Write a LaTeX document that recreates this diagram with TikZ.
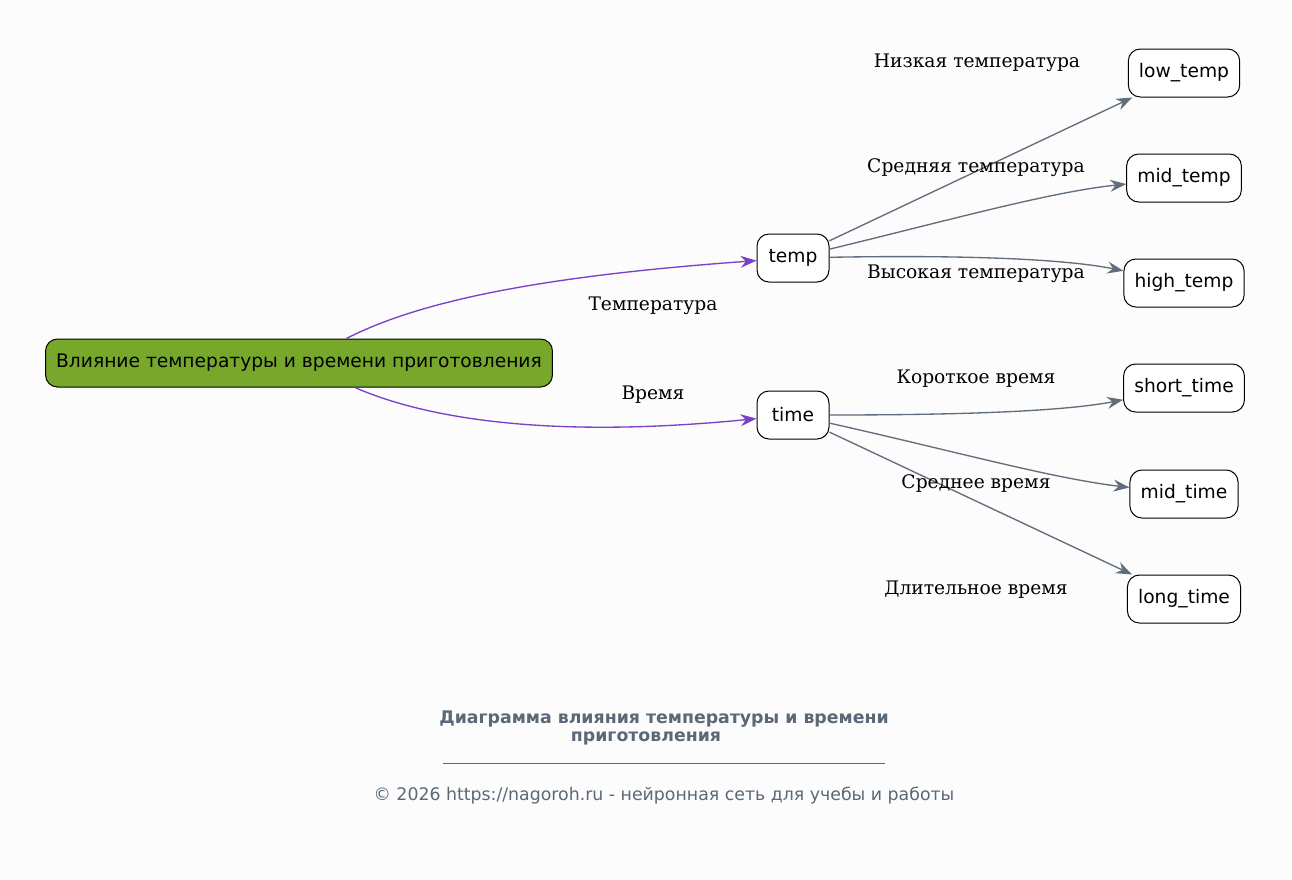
\documentclass[tikz,border=0pt]{standalone}
\usepackage{fontspec}
\setmainfont{DejaVu Serif}
\setsansfont{DejaVu Sans}
\usepackage{xcolor}
\usepackage{tikz}
\usetikzlibrary{arrows.meta,positioning}

\definecolor{rootgreen}{HTML}{78A82B}
\definecolor{branchviolet}{HTML}{7B3FC9}
\definecolor{leafgray}{HTML}{5F6D7C}
\definecolor{notegray}{HTML}{5A6878}
\definecolor{paper}{HTML}{FCFCFC}

\begin{document}
\begin{tikzpicture}[x=0.75pt,y=-0.75pt,>={Stealth[length=12pt,width=9pt,inset=4pt]},
		box/.style={draw,line width=0.75pt,rounded corners=9pt,fill=white,minimum width=54pt,minimum height=36pt,inner xsep=8pt,font=\sffamily\fontsize{14}{17}\selectfont},
		lbl/.style={font=\fontsize{14}{17}\selectfont},
		branch/.style={->,branchviolet,line width=1pt},
		leaf/.style={->,leafgray,line width=1pt}]
		\fill[paper] (0,0) rectangle (1292,879);
		\useasboundingbox (0,0) rectangle (1292,879);
		% nodes
		\node[box,fill=rootgreen] (root) at (299,363) {Влияние температуры и времени приготовления};
		\node[box] (temp) at (793,258) {temp};
		\node[box] (time) at (793,415) {time};
		\node[box] (lowtemp) at (1184,73) {low\_temp};
		\node[box] (midtemp) at (1184,178) {mid\_temp};
		\node[box] (hightemp) at (1184,283) {high\_temp};
		\node[box] (shorttime) at (1184,388) {short\_time};
		\node[box] (midtime) at (1184,494) {mid\_time};
		\node[box] (longtime) at (1184,599) {long\_time};
		% edges
		\draw[branch] (root) .. controls (425,298) and (557,275) .. (temp);
		\draw[branch] (root) .. controls (420,416) and (540,440) .. (time);
		\draw[leaf] (temp) -- (lowtemp);
		\draw[leaf] (temp) .. controls (950,220) and (1050,192) .. (midtemp);
		\draw[leaf] (temp) .. controls (950,255) and (1060,258) .. (hightemp);
		\draw[leaf] (time) .. controls (950,415) and (1060,412) .. (shorttime);
		\draw[leaf] (time) .. controls (950,450) and (1050,478) .. (midtime);
		\draw[leaf] (time) -- (longtime);
		% edge labels
		\node[lbl] (lbltemp) at (653,306) {Температура};
		\node[lbl] (lbltime) at (653,395) {Время};
		\node[lbl] (lbllow) at (977,63) {Низкая температура};
		\node[lbl] (lblmidt) at (976,168) {Средняя температура};
		\node[lbl] (lblhigh) at (976,274) {Высокая температура};
		\node[lbl] (lblshort) at (976,379) {Короткое время};
		\node[lbl] (lblmid) at (976,484) {Среднее время};
		\node[lbl] (lbllong) at (976,590) {Длительное время};
		% caption
		\node[notegray,align=center,font=\sffamily\bfseries\fontsize{13}{14}\selectfont] (title) at (664,728) {Диаграмма влияния температуры и времени\\приготовления\hspace*{27pt}};
		\draw[notegray,line width=0.5pt] (443,763) -- (885,763);
		\node[notegray,font=\sffamily\fontsize{13}{16}\selectfont] (copy) at (664,796) {© 2026 https://nagoroh.ru - нейронная сеть для учебы и работы};
	\end{tikzpicture}
\end{document}
